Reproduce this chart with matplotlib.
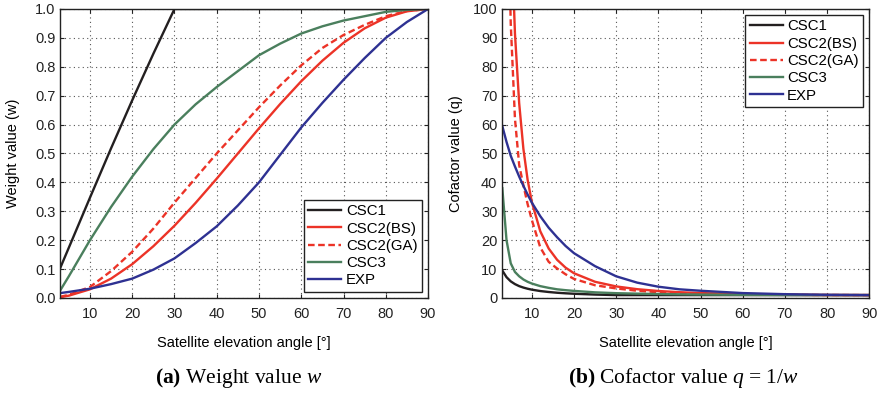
import matplotlib
matplotlib.use('Agg')
import matplotlib.pyplot as plt

plt.rcParams['font.family'] = ['Liberation Sans', 'DejaVu Sans']
plt.rcParams['mathtext.fontset'] = 'custom'
plt.rcParams['mathtext.rm'] = 'Liberation Serif'
plt.rcParams['mathtext.it'] = 'Liberation Serif:italic'
plt.rcParams['mathtext.bf'] = 'Liberation Serif:bold'

# weight value w (left panel)
ang_w = [3, 5, 10, 15, 20, 25, 30, 35, 40, 45, 50, 55, 60, 65, 70, 75, 80, 85, 90]
w_csc1 = [0.105, 0.174, 0.347, 0.518, 0.684, 0.845, 1.0, 1.0, 1.0, 1.0, 1.0, 1.0, 1.0,
          1.0, 1.0, 1.0, 1.0, 1.0, 1.0]
w_bs = [0.003, 0.008, 0.030, 0.067, 0.117, 0.179, 0.250, 0.329, 0.413, 0.500, 0.587,
        0.671, 0.750, 0.821, 0.883, 0.933, 0.970, 0.992, 1.0]
w_ga = [0.004, 0.011, 0.038, 0.093, 0.160, 0.240, 0.330, 0.415, 0.500, 0.580, 0.660,
        0.735, 0.805, 0.865, 0.910, 0.945, 0.975, 0.993, 1.0]
w_csc3 = [0.027, 0.075, 0.200, 0.315, 0.420, 0.515, 0.600, 0.670, 0.730, 0.785, 0.840,
          0.880, 0.915, 0.940, 0.960, 0.975, 0.990, 0.997, 1.0]
w_exp = [0.017, 0.021, 0.032, 0.048, 0.067, 0.098, 0.137, 0.190, 0.248, 0.320, 0.400,
         0.495, 0.590, 0.675, 0.755, 0.830, 0.900, 0.955, 1.0]

# cofactor value q (right panel)
ang_q = [3, 4, 5, 6, 7, 8, 9, 10, 12, 14, 16, 18, 20, 25, 30, 35, 40, 45, 50, 60, 70, 80, 90]
q_csc1 = [9.5, 7.2, 5.75, 4.8, 4.1, 3.6, 3.2, 2.88, 2.4, 2.07, 1.81, 1.62, 1.46, 1.18,
          1.0, 1.0, 1.0, 1.0, 1.0, 1.0, 1.0, 1.0, 1.0]
q_bs = [365, 205, 132, 91.5, 67.4, 51.6, 40.9, 33.2, 23.1, 17.1, 13.2, 10.5, 8.55, 5.6,
        4.0, 3.04, 2.42, 2.0, 1.70, 1.33, 1.13, 1.03, 1.0]
q_ga = [300, 160, 95, 62, 46, 39, 32.5, 27, 17.5, 12.5, 10.2, 8.2, 6.6, 4.4, 3.3, 2.5,
        2.0, 1.72, 1.52, 1.25, 1.1, 1.03, 1.0]
q_csc3 = [38, 20, 12, 9, 7.5, 6.4, 5.6, 5.0, 4.1, 3.5, 3.0, 2.7, 2.45, 1.95, 1.66, 1.5,
          1.37, 1.27, 1.19, 1.09, 1.04, 1.01, 1.0]
q_exp = [59.5, 54, 49.2, 45.5, 42, 38.8, 35.8, 33, 28.3, 24.3, 21, 18, 15.5, 11, 7.5,
         5.3, 3.9, 3.0, 2.5, 1.7, 1.32, 1.1, 1.0]

labels = ['CSC1', 'CSC2(BS)', 'CSC2(GA)', 'CSC3', 'EXP']
colors = ['#231f20', '#ec3327', '#ec3327', '#4a7f5d', '#2e3192']
styles = ['-', '-', '--', '-', '-']

fig = plt.figure(figsize=(8.8, 3.94), dpi=100)
ax1 = fig.add_axes([0.0686, 0.2437, 0.4178, 0.7335])
ax2 = fig.add_axes([0.5708, 0.2437, 0.4170, 0.7335])

for ax, x, ys in [(ax1, ang_w, [w_csc1, w_bs, w_ga, w_csc3, w_exp]),
                  (ax2, ang_q, [q_csc1, q_bs, q_ga, q_csc3, q_exp])]:
    for y, lab, c, ls in zip(ys, labels, colors, styles):
        line, = ax.plot(x, y, color=c, linestyle=ls, linewidth=1.7, label=lab)
        if ls == '--':
            line.set_dashes((2.8, 1.5))
    ax.set_xlim(3, 90)
    ax.set_xticks(range(10, 91, 10))
    ax.grid(True, linestyle=(0, (1, 3)), color='#555555', linewidth=0.8)
    ax.tick_params(direction='in', top=True, right=True, length=3, labelsize=10.5,
                   colors='#222222')
    ax.tick_params(axis='x', pad=6.5)
    ax.tick_params(axis='y', pad=3.5)
    for sp in ax.spines.values():
        sp.set_linewidth(1.0)
        sp.set_color('#222222')
    ax.set_xlabel('Satellite elevation angle [°]', fontsize=10.5, labelpad=11)

ax1.set_ylim(0, 1)
ax1.set_yticks([i / 10 for i in range(11)])
ax1.set_yticklabels(['%.1f' % (i / 10) for i in range(11)])
ax1.set_ylabel('Weight value (w)', fontsize=10.5)
ax1.yaxis.set_label_coords(-0.11, 0.5)
ax2.set_ylim(0, 100)
ax2.set_yticks(range(0, 101, 10))
ax2.set_ylabel('Cofactor value (q)', fontsize=10.5)
ax2.yaxis.set_label_coords(-0.107, 0.5)

for ax, loc in [(ax1, 'lower right'), (ax2, 'upper right')]:
    leg = ax.legend(loc=loc, fontsize=10.8, handlelength=2.2, handletextpad=0.3,
                    labelspacing=0.22, borderaxespad=0.4, borderpad=0.3,
                    fancybox=False, framealpha=1)
    leg.get_frame().set_edgecolor('#222222')
    leg.get_frame().set_linewidth(1.0)

fig.text(0.2708, 0.040, r'$\mathbf{(a)}$ Weight value $w$', ha='center', va='center',
         fontsize=15.5, family='Liberation Serif')
fig.text(0.7760, 0.040, r'$\mathbf{(b)}$ Cofactor value $q$ = 1/$w$', ha='center',
         va='center', fontsize=15.5, family='Liberation Serif')

fig.savefig('out.png', dpi=100)
